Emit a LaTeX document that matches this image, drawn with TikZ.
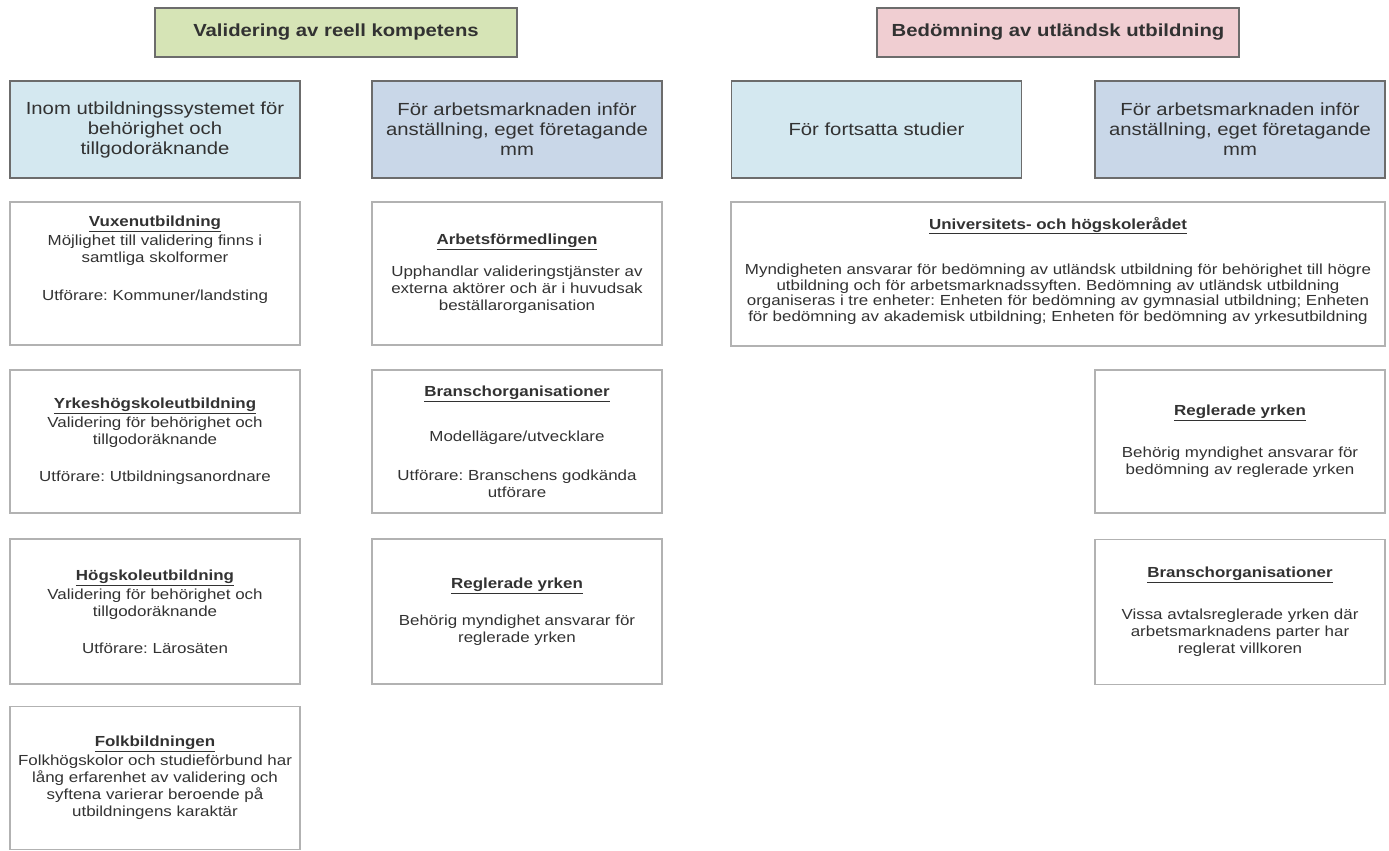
\documentclass[tikz,border=0pt]{standalone}
\usepackage{fontspec}
\setmainfont{Liberation Sans}[FakeStretch=1.16]
\definecolor{valgreen}{RGB}{214,228,182}
\definecolor{bedpink}{RGB}{240,206,210}
\definecolor{studblue}{RGB}{212,232,240}
\definecolor{arbblue}{RGB}{201,215,232}
\definecolor{txtgray}{RGB}{50,50,50}
\newcommand{\boxtitle}[1]{\underline{\textbf{#1}}}
\frenchspacing
\begin{document}
\begin{tikzpicture}[x=1pt, y=-1pt,
        hdr/.style={draw=gray!85!black, line width=1.2pt, minimum width=362pt, minimum height=49pt,
            font=\fontsize{17.5}{20}\selectfont\bfseries, text=txtgray},
        cat/.style={draw=gray!85!black, line width=1.2pt, minimum width=290pt, minimum height=97pt,
            align=center, font=\fontsize{17.5}{20}\selectfont, text=txtgray},
        info/.style={draw=gray!60, line width=1.5pt, minimum width=290pt, minimum height=143pt,
            align=center, font=\fontsize{14.6}{17}\selectfont, text=txtgray}]
    \useasboundingbox (0,0) rectangle (1389,851);

    % rubriker
    \node[hdr, fill=valgreen] (valid) at (336,32.5) {Validering av reell kompetens};
    \node[hdr, fill=bedpink] (bedom) at (1058,32.5) {Bedömning av utländsk utbildning};

    \node[cat, fill=studblue] (inom) at (155,129.5) {Inom utbildningssystemet för\\ behörighet och\\ tillgodoräknande};
    \node[cat, fill=arbblue] (arbval) at (517,129.5) {För arbetsmarknaden inför\\ anställning, eget företagande\\ mm};
    \node[cat, fill=studblue] (studier) at (876.5,129.5) {För fortsatta studier};
    \node[cat, fill=arbblue] (arbbed) at (1240,129.5) {För arbetsmarknaden inför\\ anställning, eget företagande\\ mm};

    % vänstra kolumnen
    \node[info] (vux) at (155,273.5) {\boxtitle{Vuxenutbildning}\\[2pt] Möjlighet till validering finns i\\ samtliga skolformer\\[21pt] Utförare: Kommuner/landsting\\[14pt]~};
    \node[info] (yh) at (155,441.5) {\boxtitle{Yrkeshögskoleutbildning}\\[2pt] Validering för behörighet och\\ tillgodoräknande\\[20pt] Utförare: Utbildningsanordnare};
    \node[info, minimum height=145pt] (hog) at (155,611.5) {\boxtitle{Högskoleutbildning}\\[2pt] Validering för behörighet och\\ tillgodoräknande\\[20pt] Utförare: Lärosäten};
    \node[info] (folk) at (155,778) {\boxtitle{Folkbildningen}\\[2pt] Folkhögskolor och studieförbund har\\ lång erfarenhet av validering och\\ syftena varierar beroende på\\ utbildningens karaktär};

    % mittkolumnen
    \node[info] (arbf) at (517,273.5) {\boxtitle{Arbetsförmedlingen}\\[15pt] Upphandlar valideringstjänster av\\ externa aktörer och är i huvudsak\\ beställarorganisation};
    \node[info] (bransch) at (517,441.5) {\boxtitle{Branschorganisationer}\\[28pt] Modellägare/utvecklare\\[22pt] Utförare: Branschens godkända\\ utförare};
    \node[info, minimum height=145pt] (regval) at (517,611.5) {\boxtitle{Reglerade yrken}\\[20pt] Behörig myndighet ansvarar för\\ reglerade yrken};

    % högra delen
    \node[info, minimum width=654pt, minimum height=144pt, font=\fontsize{14.6}{15.5}\selectfont] (uhr) at (1058,274) {\boxtitle{Universitets- och högskolerådet}\\[29pt]
        Myndigheten ansvarar för bedömning av utländsk utbildning för behörighet till högre\\
        utbildning och för arbetsmarknadssyften. Bedömning av utländsk utbildning\\
        organiseras i tre enheter: Enheten för bedömning av gymnasial utbildning; Enheten\\
        för bedömning av akademisk utbildning; Enheten för bedömning av yrkesutbildning\\[-6pt]~};
    \node[info] (regbed) at (1240,441.5) {\boxtitle{Reglerade yrken}\\[25pt] Behörig myndighet ansvarar för\\ bedömning av reglerade yrken};
    \node[info, minimum height=145pt] (bransbed) at (1240,612) {\boxtitle{Branschorganisationer}\\[25pt] Vissa avtalsreglerade yrken där\\ arbetsmarknadens parter har\\ reglerat villkoren};
\end{tikzpicture}
\end{document}
